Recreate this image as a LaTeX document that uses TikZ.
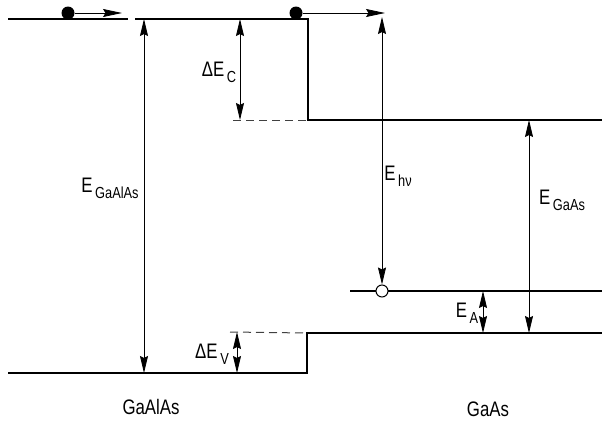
\documentclass[tikz,border=0pt]{standalone}
\usepackage{fontspec}
\setmainfont{Liberation Sans}[FakeStretch=0.8]
\usetikzlibrary{arrows.meta,positioning}
\newcommand\lsub[1]{\raisebox{-0.55ex}{\fontsize{16}{17}\selectfont\,#1}}
\tikzset{
  vband/.style={line width=1.4pt,draw=black},
  vdash/.style={line width=1pt,draw=black!75,dash pattern=on 8pt off 5pt},
  vdim/.style={{Stealth[length=17pt,width=8pt,inset=2pt]}-{Stealth[length=17pt,width=8pt,inset=2pt]},line width=0.8pt},
  vmove/.style={-{Stealth[length=19pt,width=8pt,inset=2.5pt]},line width=0.8pt},
  velec/.style={circle,fill=black,inner sep=0pt,minimum size=13pt},
  vhole/.style={circle,draw=black,fill=white,line width=1pt,inner sep=0pt,minimum size=12pt},
  vlabel/.style={inner sep=1pt,font=\fontsize{21}{23}\selectfont}
}
\begin{document}
\begin{tikzpicture}[x=1pt,y=-1pt]
  \useasboundingbox (0,0) rectangle (602,423);
  % band edges
  \coordinate (cl0) at (8,19);   \coordinate (cl1) at (128,19);
  \coordinate (cm0) at (135,19); \coordinate (ctop) at (308,19);
  \coordinate (cbot) at (308,120); \coordinate (cr) at (602,120);
  \coordinate (vl0) at (8,373);  \coordinate (vbot) at (307,373);
  \coordinate (vtop) at (307,333); \coordinate (vr) at (602,333);
  \coordinate (a0) at (350,291); \coordinate (a1) at (602,291);
  \coordinate (dc) at (233,120); \coordinate (dv) at (230,332);
  \draw[vband] (cl0) -- (cl1);
  \draw[vband] (cm0) -- (ctop) -- (cbot) -- (cr);
  \draw[vband] (vl0) -- (vbot) -- (vtop) -- (vr);
  \draw[vband] (a0) -- (a1);
  \draw[vdash] (dc) -- (cbot);
  \draw[vdash] (dv) -- (vtop);
  % carriers
  \node[velec] (e1) at (68,13) {};
  \coordinate (e1end) at (122,13);
  \draw[vmove] (e1) -- (e1end);
  \node[velec] (e2) at (296,13) {};
  \coordinate (e2end) at (385,13);
  \draw[vmove] (e2) -- (e2end);
  \node[vhole] (h) at (382,291) {};
  \coordinate (hv) at (382,17);
  % energies
  \coordinate (g1) at (144,19);
  \coordinate (dc1) at (240,19);
  \coordinate (dv1) at (237,332);
  \coordinate (ea1) at (483,291);
  \coordinate (eg1) at (529,120);
  \draw[vdim] (g1) -- (g1 |- vl0);
  \draw[vdim] (dc1) -- (dc1 |- dc);
  \draw[vdim] (dv1) -- (dv1 |- vl0);
  \draw[vdim] (hv) -- (h.north);
  \draw[vdim] (ea1) -- (ea1 |- vr);
  \draw[vdim] (eg1) -- (eg1 |- vr);
  \node[vlabel] (lg1) at (110,188) {E\lsub{GaAlAs}};
  \node[vlabel] (ldc) at (219,72) {ΔE\lsub{C}};
  \node[vlabel] (ldv) at (212,354) {ΔE\lsub{V}};
  \node[vlabel] (lhv) at (398,176) {E\lsub{hν}};
  \node[vlabel] (lea) at (467,313) {E\lsub{A}};
  \node[vlabel] (leg) at (562,200) {E\lsub{GaAs}};
  \node[vlabel] (m1) at (151,407) {GaAlAs};
  \node[vlabel] (m2) at (488,409) {GaAs};
\end{tikzpicture}
\end{document}
